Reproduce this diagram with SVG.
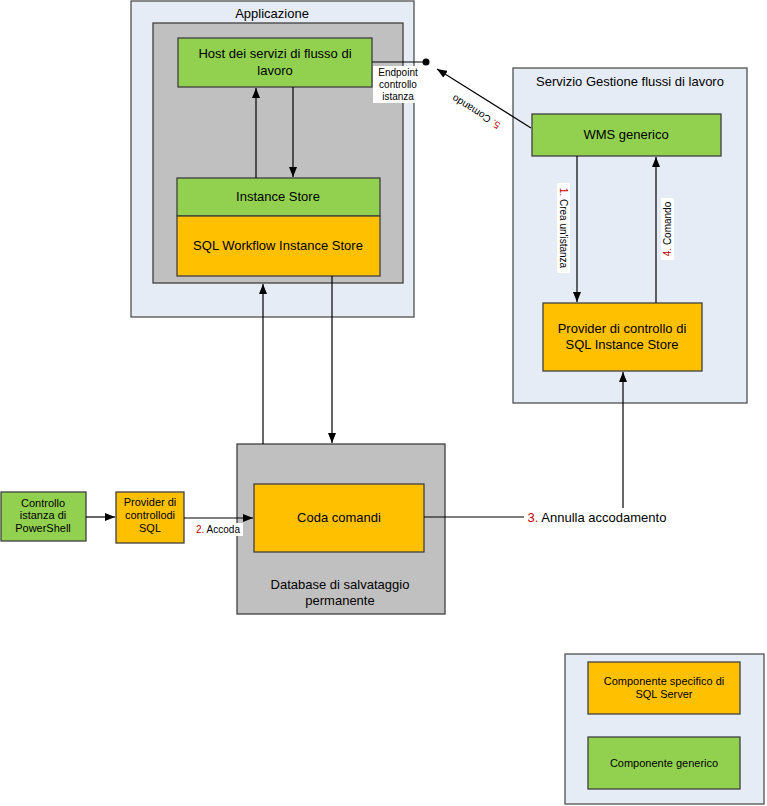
<svg xmlns="http://www.w3.org/2000/svg" width="767" height="806" viewBox="0 0 767 806">
<defs>
<marker id="ah" markerWidth="10" markerHeight="8" refX="10" refY="4" orient="auto" markerUnits="userSpaceOnUse">
<path d="M0,0 L10,4 L0,8 Z" fill="#000"/>
</marker>
<style>
.cont{fill:#E6ECF6;stroke:#505050;stroke-width:1.3}
.gray{fill:#C0C0C0;stroke:#404040;stroke-width:1.3}
.grn{fill:#92D050;stroke:#404040;stroke-width:1.3}
.org{fill:#FFC000;stroke:#404040;stroke-width:1.3}
text{font-family:"Liberation Sans",Arial,sans-serif;fill:#000;text-anchor:middle}
.t13{font-size:13px}
.t11{font-size:11px}
.t10{font-size:10px}
.red{fill:#C00000}
.ln{stroke:#000;stroke-width:1.2;fill:none}
.lbg{fill:#fff}
</style>
</defs>
<rect width="767" height="806" fill="#fff"/>

<g id="applicazione">
<rect class="cont" x="131" y="1" width="283" height="316"/>
<text class="t13" x="272" y="18">Applicazione</text>
<rect class="gray" x="153" y="23" width="250" height="260"/>
</g>
<g id="host">
<rect class="grn" x="178" y="38" width="194" height="49"/>
<text class="t13" x="275" y="58">Host dei servizi di flusso di</text>
<text class="t13" x="275" y="75">lavoro</text>
</g>
<g id="instance-store">
<rect class="grn" x="177" y="178" width="203" height="38"/>
<text class="t13" x="278" y="201">Instance Store</text>
</g>
<g id="sql-workflow">
<rect class="org" x="177" y="216" width="203" height="60"/>
<text class="t13" x="278" y="250">SQL Workflow Instance Store</text>
</g>

<g id="servizio-gestione">
<rect class="cont" x="513" y="68" width="234" height="335"/>
<text class="t13" x="630" y="86">Servizio Gestione flussi di lavoro</text>
</g>
<g id="wms">
<rect class="grn" x="532" y="114" width="189" height="42"/>
<text class="t13" x="626" y="139">WMS generico</text>
</g>
<g id="provider-sql-store">
<rect class="org" x="543" y="303" width="159" height="68"/>
<text class="t13" x="622" y="333">Provider di controllo di</text>
<text class="t13" x="622" y="349">SQL Instance Store</text>
</g>

<g id="database">
<rect class="gray" x="237" y="444" width="208" height="170"/>
<text class="t13" x="340" y="589">Database di salvataggio</text>
<text class="t13" x="340" y="605">permanente</text>
</g>
<g id="coda">
<rect class="org" x="254" y="484" width="170" height="68"/>
<text class="t13" x="339" y="522">Coda comandi</text>
</g>
<g id="controllo-powershell">
<rect class="grn" x="1" y="492" width="85" height="49"/>
<text class="t11" x="43" y="507">Controllo</text>
<text class="t11" x="43" y="519">istanza di</text>
<text class="t11" x="43" y="532">PowerShell</text>
</g>
<g id="provider-sql">
<rect class="org" x="116" y="492" width="68" height="51"/>
<text class="t11" x="150" y="506">Provider di</text>
<text class="t11" x="150" y="519">controllodi</text>
<text class="t11" x="150" y="532">SQL</text>
</g>

<g id="legenda">
<rect class="cont" x="565" y="654" width="199" height="150"/>
<rect class="org" x="588" y="662" width="152" height="52"/>
<text class="t11" x="664" y="685">Componente specifico di</text>
<text class="t11" x="664" y="698">SQL Server</text>
<rect class="grn" x="588" y="737" width="152" height="52"/>
<text class="t11" x="664" y="767">Componente generico</text>
</g>

<g id="connectors">
<line class="ln" x1="256" y1="178" x2="256" y2="88" marker-end="url(#ah)"/>
<line class="ln" x1="293" y1="87" x2="293" y2="177" marker-end="url(#ah)"/>
<line class="ln" x1="263" y1="444" x2="263" y2="284" marker-end="url(#ah)"/>
<line class="ln" x1="332" y1="276" x2="332" y2="443" marker-end="url(#ah)"/>
<line class="ln" x1="372" y1="62" x2="426" y2="62"/>
<circle cx="426" cy="62" r="3.5" fill="#000"/>
<rect class="lbg" x="373" y="66" width="50" height="37"/>
<text class="t10" x="398" y="76">Endpoint</text>
<text class="t10" x="398" y="88">controllo</text>
<text class="t10" x="398" y="100">istanza</text>
<line class="ln" x1="531" y1="128" x2="437" y2="69" marker-end="url(#ah)"/>
<text class="t10" transform="translate(478,109) rotate(212)"><tspan class="red">5.</tspan> Comando</text>
<line class="ln" x1="577" y1="156" x2="577" y2="302" marker-end="url(#ah)"/>
<rect class="lbg" x="557" y="183" width="13" height="90"/>
<text class="t10" transform="translate(560,228) rotate(90)"><tspan class="red">1.</tspan> Crea un'istanza</text>
<line class="ln" x1="656" y1="303" x2="656" y2="157" marker-end="url(#ah)"/>
<rect class="lbg" x="661" y="198" width="13" height="62"/>
<text class="t10" transform="translate(671,229) rotate(-90)"><tspan class="red">4.</tspan> Comando</text>
<line class="ln" x1="86" y1="517" x2="115" y2="517" marker-end="url(#ah)"/>
<line class="ln" x1="184" y1="518" x2="253" y2="518" marker-end="url(#ah)"/>
<rect class="lbg" x="193" y="523" width="50" height="13"/>
<text class="t10" x="218" y="533"><tspan class="red">2.</tspan> Accoda</text>
<line class="ln" x1="424" y1="517" x2="524" y2="517"/>
<text class="t13" x="597" y="522"><tspan class="red">3.</tspan> Annulla accodamento</text>
<line class="ln" x1="623" y1="508" x2="623" y2="372" marker-end="url(#ah)"/>
</g>
</svg>
